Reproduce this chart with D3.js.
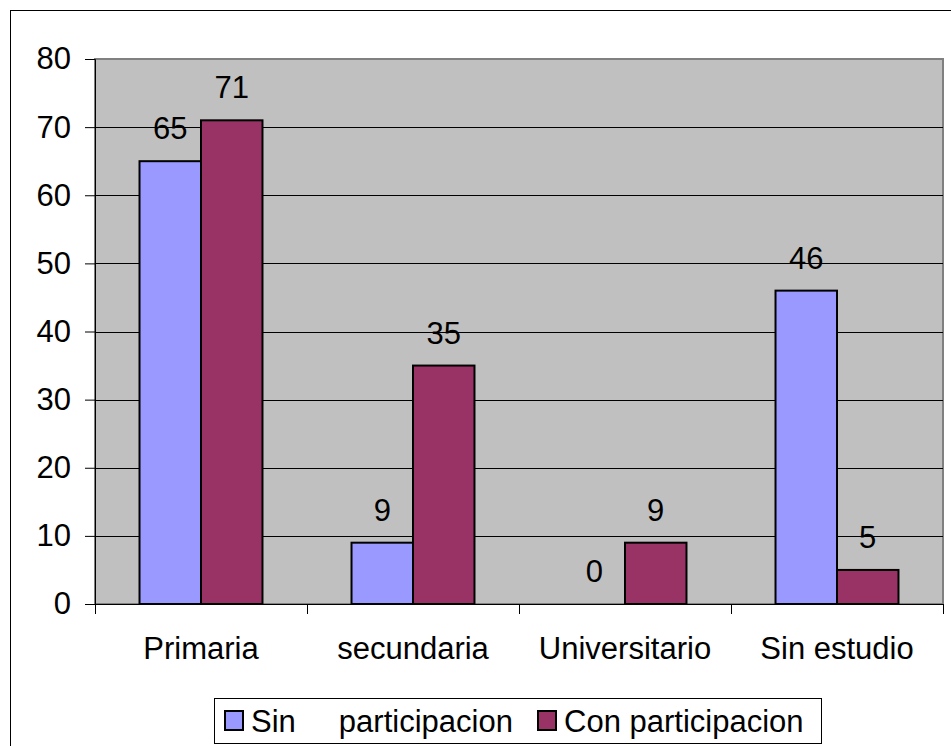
<!DOCTYPE html>
<html>
<head>
<meta charset="utf-8">
<script src="https://cdn.jsdelivr.net/npm/d3@7/dist/d3.min.js"></script>
<style>
  body { margin: 0; background: #fff; }
  svg text { font-family: "Liberation Sans", Arial, sans-serif; fill: #000; }
</style>
</head>
<body>
<div id="chart"></div>
<script>
// data
const categories = ["Primaria", "secundaria", "Universitario", "Sin estudio"];
const seriesNames = ["Sin     participacion", "Con participacion"];
const sinValues = [65, 9, 0, 46];
const conValues = [71, 35, 9, 5];
const yTicks = [0, 10, 20, 30, 40, 50, 60, 70, 80];
const colors = ["#9999FF", "#993366"];

const W = 951, H = 746;
const plot = { left: 95, top: 59, right: 943, bottom: 604 };
const fs = 31;

const svg = d3.select("#chart").append("svg")
  .attr("width", W)
  .attr("height", H);

// outer chart border
svg.append("rect")
  .attr("x", 10.5).attr("y", 10.5)
  .attr("width", W + 10).attr("height", H + 10)
  .attr("fill", "#fff")
  .attr("stroke", "#000")
  .attr("stroke-width", 1);

// plot area
svg.append("rect")
  .attr("x", plot.left).attr("y", plot.top)
  .attr("width", plot.right - plot.left)
  .attr("height", plot.bottom - plot.top)
  .attr("fill", "#C0C0C0")
  .attr("stroke", "#808080")
  .attr("stroke-width", 2);

const x0 = d3.scaleBand()
  .domain(categories)
  .range([plot.left, plot.right])
  .paddingInner(0)
  .paddingOuter(0);

const barW = x0.bandwidth() * 0.29;

const y = d3.scaleLinear()
  .domain([0, 80])
  .range([plot.bottom, plot.top]);

// grid lines
svg.append("g")
  .selectAll("line")
  .data(yTicks.slice(1, -1))
  .join("line")
  .attr("x1", plot.left).attr("x2", plot.right)
  .attr("y1", d => Math.round(y(d)) + 0.5)
  .attr("y2", d => Math.round(y(d)) + 0.5)
  .attr("stroke", "#000")
  .attr("stroke-width", 1);

// y axis
const yAxis = svg.append("g")
  .attr("transform", `translate(${plot.left},0)`)
  .call(d3.axisLeft(y).tickValues(yTicks).tickSize(10).tickPadding(14).tickFormat(d3.format("d")));
yAxis.select(".domain").attr("stroke", "#000");
yAxis.selectAll(".tick line").attr("stroke", "#000");
yAxis.selectAll("text")
  .attr("font-size", fs)
  .attr("font-family", "Liberation Sans, Arial, sans-serif")
  .attr("fill", "#000");

// x axis
const xAxis = svg.append("g")
  .attr("transform", `translate(0,${plot.bottom})`)
  .call(d3.axisBottom(x0).tickSize(0).tickPadding(33));
xAxis.select(".domain").attr("stroke", "#000");
xAxis.selectAll("text")
  .attr("font-size", fs)
  .attr("font-family", "Liberation Sans, Arial, sans-serif")
  .attr("fill", "#000");

// category separator ticks
const sepTicks = categories.map(c => x0(c)).concat([plot.right]);
svg.append("g")
  .selectAll("line")
  .data(sepTicks)
  .join("line")
  .attr("x1", d => Math.round(d) + 0.5).attr("x2", d => Math.round(d) + 0.5)
  .attr("y1", plot.bottom).attr("y2", plot.bottom + 10)
  .attr("stroke", "#000");

// bars
const rows = categories.map((c, i) => ({ cat: c, vals: [sinValues[i], conValues[i]] }));

const groups = svg.append("g")
  .selectAll("g")
  .data(rows)
  .join("g")
  .attr("transform", d => `translate(${x0(d.cat) + x0.bandwidth() / 2},0)`);

groups.selectAll("rect")
  .data(d => d.vals.map((v, j) => ({ v, j })))
  .join("rect")
  .attr("x", d => d.j === 0 ? -barW : 0)
  .attr("y", d => y(d.v))
  .attr("width", barW)
  .attr("height", d => y(0) - y(d.v))
  .attr("fill", d => colors[d.j])
  .attr("stroke", "#000")
  .attr("stroke-width", 2)
  .attr("visibility", d => d.v === 0 ? "hidden" : "visible");

groups.selectAll("text.lbl")
  .data(d => d.vals.map((v, j) => ({ v, j })))
  .join("text")
  .attr("class", "lbl")
  .attr("x", d => d.j === 0 ? -barW / 2 : barW / 2)
  .attr("y", d => y(d.v) - 22)
  .attr("text-anchor", "middle")
  .attr("font-size", fs)
  .text(d => d.v);

// legend
const legend = svg.append("g");
legend.append("rect")
  .attr("x", 214.5).attr("y", 698.5)
  .attr("width", 607).attr("height", 45)
  .attr("fill", "#fff")
  .attr("stroke", "#000");

const legendItems = [
  { name: seriesNames[0], color: colors[0], x: 224 },
  { name: seriesNames[1], color: colors[1], x: 537 }
];
const li = legend.selectAll("g.item")
  .data(legendItems)
  .join("g")
  .attr("class", "item")
  .attr("transform", d => `translate(${d.x},0)`);
li.append("rect")
  .attr("x", 1).attr("y", 711)
  .attr("width", 18).attr("height", 19)
  .attr("fill", d => d.color)
  .attr("stroke", "#000")
  .attr("stroke-width", 2);
li.append("text")
  .attr("x", 27).attr("y", 732)
  .attr("font-size", fs)
  .style("white-space", "pre")
  .text(d => d.name);
</script>
</body>
</html>
